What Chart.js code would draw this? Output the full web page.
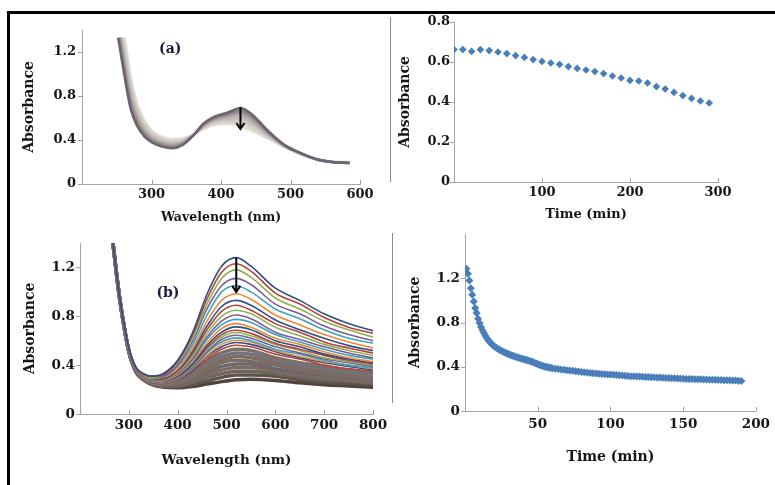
<!DOCTYPE html>
<html>
<head>
<meta charset="utf-8">
<script src="https://cdn.jsdelivr.net/npm/chart.js@4.4.1/dist/chart.umd.min.js"></script>
<style>
  html, body { margin: 0; padding: 0; background: #fff; }
  #page { position: relative; width: 775px; height: 485px; overflow: hidden; background: #fff; }
  #page canvas { position: absolute; left: 0; top: 0; }
  .frame { position: absolute; left: 7px; top: 11px; width: 800px; height: 500px;
           border-top: 3px solid #000; border-left: 3px solid #000; }
  .divider { position: absolute; width: 1px; background: #8c8c8c; }
</style>
</head>
<body>
<div id="page">
  <div class="frame"></div>
  <div class="divider" style="left:390px; top:17px; height:165px"></div>
  <div class="divider" style="left:392px; top:233px; height:170px"></div>
  <canvas id="specA" width="775" height="485"></canvas>
  <canvas id="kinA" width="775" height="485"></canvas>
  <canvas id="specB" width="775" height="485"></canvas>
  <canvas id="kinB" width="775" height="485"></canvas>
</div>
<script>
// ---------- data: panel (a) spectra ----------
// each curve starts at its own wavelength (startA) at 1.33, then follows wavelengthsA
const startA = [252, 253, 254, 255, 256, 257, 258, 259, 260, 262];
const wavelengthsA = [270, 280, 290, 300, 315, 330, 345, 360, 375, 390, 410, 428, 445, 465, 490, 515, 540, 560, 585];
const spectraA = [
  [0.685, 0.52, 0.43, 0.38, 0.34, 0.325, 0.355, 0.44, 0.55, 0.61, 0.65, 0.69, 0.63, 0.50, 0.36, 0.28, 0.22, 0.20, 0.19],
  [0.718, 0.542, 0.447, 0.392, 0.35, 0.334, 0.362, 0.441, 0.544, 0.602, 0.638, 0.671, 0.613, 0.491, 0.358, 0.279, 0.22, 0.20, 0.191],
  [0.75, 0.564, 0.463, 0.404, 0.36, 0.344, 0.368, 0.442, 0.539, 0.593, 0.627, 0.652, 0.597, 0.482, 0.356, 0.278, 0.22, 0.20, 0.192],
  [0.783, 0.587, 0.48, 0.417, 0.37, 0.353, 0.375, 0.443, 0.533, 0.585, 0.615, 0.633, 0.58, 0.473, 0.353, 0.277, 0.22, 0.20, 0.193],
  [0.816, 0.609, 0.497, 0.429, 0.38, 0.363, 0.382, 0.444, 0.528, 0.577, 0.603, 0.614, 0.563, 0.464, 0.351, 0.276, 0.22, 0.20, 0.194],
  [0.849, 0.631, 0.513, 0.441, 0.39, 0.372, 0.388, 0.446, 0.522, 0.568, 0.592, 0.595, 0.547, 0.456, 0.349, 0.274, 0.22, 0.20, 0.196],
  [0.882, 0.653, 0.53, 0.453, 0.40, 0.382, 0.395, 0.447, 0.517, 0.56, 0.58, 0.577, 0.53, 0.447, 0.347, 0.273, 0.22, 0.20, 0.197],
  [0.915, 0.676, 0.547, 0.466, 0.41, 0.391, 0.402, 0.448, 0.511, 0.552, 0.568, 0.558, 0.513, 0.438, 0.344, 0.272, 0.22, 0.20, 0.198],
  [0.947, 0.698, 0.563, 0.478, 0.42, 0.401, 0.408, 0.449, 0.506, 0.543, 0.557, 0.539, 0.497, 0.429, 0.342, 0.271, 0.22, 0.20, 0.199],
  [0.98, 0.72, 0.58, 0.49, 0.43, 0.41, 0.415, 0.45, 0.50, 0.535, 0.545, 0.52, 0.48, 0.42, 0.34, 0.27, 0.22, 0.20, 0.20]
];
const coloursA = ['#6a6476', '#8a8660', '#a0909c', '#b0a5aa', '#bbb3b3', '#c5bfb9', '#cec9bf', '#d6d3c8', '#dddbd0', '#e4e2d7'];

// ---------- data: panel (a) kinetics ----------
const timesA = [0, 10, 20, 30, 40, 50, 60, 70, 80, 90, 100, 110, 120, 130, 140, 150, 160, 170, 180, 190,
  200, 210, 220, 230, 240, 250, 260, 270, 280, 290];
const absA = [0.662, 0.662, 0.653, 0.662, 0.657, 0.65, 0.642, 0.632, 0.623, 0.612, 0.603, 0.595, 0.588, 0.577,
  0.568, 0.56, 0.552, 0.542, 0.53, 0.52, 0.508, 0.505, 0.495, 0.477, 0.465, 0.448, 0.432, 0.418, 0.405, 0.395];

// ---------- data: panel (b) spectra ----------
const wavelengthsB = [266, 280, 290, 300, 315, 330, 345, 370, 400, 430, 460, 490, 520, 550, 600, 650, 700, 750, 800];
const spectraB = [
  [1.45, 0.99, 0.74, 0.54, 0.38, 0.33, 0.31, 0.33, 0.44, 0.66, 0.98, 1.21, 1.28, 1.21, 1.03, 0.93, 0.82, 0.74, 0.68],
  [1.45, 0.99, 0.74, 0.54, 0.38, 0.33, 0.31, 0.32, 0.43, 0.64, 0.94, 1.16, 1.23, 1.17, 0.99, 0.90, 0.79, 0.71, 0.66],
  [1.45, 0.99, 0.74, 0.54, 0.38, 0.325, 0.30, 0.32, 0.42, 0.61, 0.90, 1.11, 1.18, 1.12, 0.95, 0.86, 0.76, 0.69, 0.63],
  [1.45, 0.99, 0.74, 0.535, 0.37, 0.32, 0.30, 0.31, 0.40, 0.59, 0.86, 1.05, 1.11, 1.06, 0.90, 0.82, 0.72, 0.65, 0.60],
  [1.45, 0.99, 0.735, 0.53, 0.37, 0.32, 0.295, 0.305, 0.39, 0.56, 0.81, 1.00, 1.05, 1.00, 0.86, 0.78, 0.69, 0.62, 0.58],
  [1.45, 0.985, 0.735, 0.53, 0.37, 0.315, 0.29, 0.30, 0.37, 0.53, 0.76, 0.93, 0.985, 0.94, 0.81, 0.73, 0.65, 0.59, 0.54],
  [1.45, 0.985, 0.733, 0.53, 0.366, 0.313, 0.287, 0.292, 0.36, 0.51, 0.72, 0.88, 0.93, 0.89, 0.77, 0.69, 0.62, 0.56, 0.52],
  [1.45, 0.985, 0.732, 0.528, 0.364, 0.31, 0.285, 0.287, 0.35, 0.49, 0.69, 0.84, 0.89, 0.85, 0.74, 0.67, 0.59, 0.54, 0.50],
  [1.45, 0.985, 0.731, 0.527, 0.363, 0.309, 0.282, 0.283, 0.34, 0.47, 0.66, 0.80, 0.85, 0.82, 0.71, 0.64, 0.57, 0.52, 0.48],
  [1.45, 0.985, 0.73, 0.526, 0.361, 0.306, 0.279, 0.278, 0.33, 0.45, 0.63, 0.76, 0.81, 0.78, 0.67, 0.61, 0.55, 0.50, 0.46],
  [1.45, 0.985, 0.73, 0.525, 0.36, 0.305, 0.277, 0.274, 0.33, 0.44, 0.61, 0.73, 0.775, 0.75, 0.65, 0.59, 0.53, 0.48, 0.45],
  [1.45, 0.985, 0.729, 0.524, 0.358, 0.303, 0.275, 0.271, 0.32, 0.43, 0.58, 0.70, 0.74, 0.71, 0.62, 0.57, 0.51, 0.46, 0.43],
  [1.45, 0.984, 0.729, 0.523, 0.357, 0.302, 0.273, 0.268, 0.31, 0.41, 0.56, 0.67, 0.713, 0.69, 0.60, 0.55, 0.49, 0.45, 0.42],
  [1.45, 0.984, 0.728, 0.522, 0.356, 0.30, 0.271, 0.265, 0.306, 0.40, 0.54, 0.65, 0.686, 0.66, 0.58, 0.53, 0.48, 0.44, 0.41],
  [1.45, 0.984, 0.728, 0.522, 0.355, 0.299, 0.27, 0.263, 0.302, 0.39, 0.53, 0.63, 0.667, 0.64, 0.57, 0.52, 0.46, 0.43, 0.40],
  [1.45, 0.984, 0.727, 0.521, 0.355, 0.298, 0.269, 0.26, 0.297, 0.38, 0.51, 0.61, 0.645, 0.62, 0.55, 0.50, 0.45, 0.42, 0.39],
  [1.45, 0.983, 0.727, 0.52, 0.354, 0.297, 0.267, 0.258, 0.292, 0.37, 0.50, 0.59, 0.623, 0.60, 0.53, 0.49, 0.44, 0.40, 0.38],
  [1.45, 0.983, 0.726, 0.52, 0.353, 0.296, 0.266, 0.256, 0.288, 0.37, 0.48, 0.57, 0.604, 0.59, 0.52, 0.47, 0.43, 0.40, 0.37],
  [1.45, 0.983, 0.726, 0.519, 0.352, 0.295, 0.265, 0.254, 0.284, 0.36, 0.47, 0.55, 0.585, 0.57, 0.51, 0.46, 0.42, 0.39, 0.36],
  [1.45, 0.983, 0.726, 0.518, 0.351, 0.294, 0.263, 0.251, 0.279, 0.35, 0.45, 0.53, 0.563, 0.55, 0.49, 0.45, 0.40, 0.37, 0.35],
  [1.45, 0.983, 0.725, 0.518, 0.35, 0.293, 0.261, 0.248, 0.271, 0.33, 0.43, 0.50, 0.53, 0.52, 0.46, 0.42, 0.39, 0.36, 0.34],
  [1.45, 0.982, 0.724, 0.517, 0.349, 0.291, 0.259, 0.244, 0.265, 0.32, 0.41, 0.47, 0.50, 0.49, 0.44, 0.40, 0.37, 0.34, 0.32],
  [1.45, 0.982, 0.724, 0.516, 0.348, 0.29, 0.257, 0.241, 0.258, 0.31, 0.38, 0.44, 0.47, 0.46, 0.42, 0.38, 0.35, 0.33, 0.31],
  [1.45, 0.982, 0.723, 0.515, 0.346, 0.288, 0.255, 0.238, 0.251, 0.29, 0.36, 0.42, 0.44, 0.43, 0.40, 0.36, 0.33, 0.31, 0.29],
  [1.45, 0.981, 0.723, 0.514, 0.345, 0.287, 0.253, 0.234, 0.244, 0.28, 0.34, 0.39, 0.41, 0.41, 0.37, 0.34, 0.32, 0.30, 0.28],
  [1.45, 0.981, 0.722, 0.513, 0.344, 0.285, 0.252, 0.231, 0.237, 0.27, 0.32, 0.36, 0.38, 0.38, 0.35, 0.32, 0.30, 0.28, 0.27],
  [1.45, 0.981, 0.721, 0.512, 0.343, 0.284, 0.25, 0.228, 0.231, 0.26, 0.30, 0.33, 0.35, 0.35, 0.33, 0.30, 0.28, 0.27, 0.25],
  [1.45, 0.98, 0.721, 0.511, 0.342, 0.282, 0.248, 0.224, 0.224, 0.24, 0.27, 0.30, 0.32, 0.32, 0.31, 0.28, 0.26, 0.25, 0.24],
  [1.45, 0.98, 0.72, 0.51, 0.34, 0.28, 0.245, 0.22, 0.215, 0.225, 0.245, 0.265, 0.28, 0.285, 0.275, 0.255, 0.24, 0.23, 0.22]
];
const paletteB = ['#2f4f80', '#b0443f', '#8fb050', '#7a5c9c', '#3fa2bd', '#ee8a3c'];
const mutedB = ['#7d6f66', '#6f7480', '#84695a', '#746f64', '#6e6370', '#7f6b5a', '#6c6560', '#5f534b', '#4f433c'];

// ---------- data: panel (b) kinetics ----------
const timesB = [1, 2, 3, 4, 5, 6, 7, 8, 9, 10, 11, 12, 13, 14, 15, 16, 17, 18, 19, 20,
  21, 22, 23, 24, 25, 26, 27, 28, 29, 30, 31, 32, 33, 34, 35, 36, 37, 38, 39, 40,
  41, 42, 43, 44, 45, 46, 47, 48, 49, 50, 51, 52, 53, 54, 55, 56, 57, 58, 59, 60,
  62, 64, 66, 68, 70, 72, 74, 76, 78, 80, 82, 84, 86, 88, 90, 92, 94, 96, 98, 100,
  102, 104, 106, 108, 110, 112, 114, 116, 118, 120, 122, 124, 126, 128, 130, 132, 134, 136, 138, 140,
  142, 144, 146, 148, 150, 152, 154, 156, 158, 160, 162, 164, 166, 168, 170, 172, 174, 176, 178, 180,
  182, 184, 186, 188, 190];
const absB = [1.285, 1.24, 1.18, 1.11, 1.05, 0.99, 0.93, 0.885, 0.835, 0.795, 0.76, 0.73, 0.705, 0.68, 0.66, 0.64, 0.625, 0.61, 0.597, 0.585,
  0.576, 0.567, 0.559, 0.552, 0.545, 0.538, 0.531, 0.525, 0.519, 0.513, 0.508, 0.503, 0.498, 0.494, 0.489, 0.485, 0.481, 0.477, 0.473, 0.47,
  0.466, 0.462, 0.458, 0.454, 0.45, 0.445, 0.44, 0.435, 0.43, 0.424, 0.418, 0.413, 0.408, 0.404, 0.401, 0.398, 0.395, 0.392, 0.39, 0.387,
  0.383, 0.38, 0.376, 0.373, 0.369, 0.366, 0.363, 0.359, 0.356, 0.353, 0.35, 0.347, 0.344, 0.341, 0.339, 0.337, 0.335, 0.333, 0.331, 0.329,
  0.327, 0.325, 0.323, 0.321, 0.319, 0.317, 0.315, 0.314, 0.312, 0.311, 0.31, 0.308, 0.307, 0.306, 0.304, 0.303, 0.302, 0.30, 0.299, 0.298,
  0.297, 0.295, 0.294, 0.293, 0.291, 0.29, 0.29, 0.289, 0.288, 0.287, 0.286, 0.285, 0.284, 0.283, 0.282, 0.282, 0.281, 0.28, 0.279, 0.278,
  0.277, 0.276, 0.275, 0.274, 0.272];

// ---------- styling ----------
const FONT = "'DejaVu Serif', serif";
const INK = '#161616';
const AXIS = '#a3a3a3';
const MARKER = '#4a7ebb';

// small tick marks, arrow and panel letter, all placed through the chart scales
const marks = {
  id: 'marks',
  afterDraw(chart, args, o) {
    const {ctx, chartArea: a, scales: {x, y}} = chart;
    ctx.save();
    ctx.strokeStyle = AXIS;
    ctx.lineWidth = 1;
    x.ticks.forEach((t, i) => {
      if (i === 0) return;
      const px = Math.round(x.getPixelForValue(t.value)) + 0.5;
      ctx.beginPath(); ctx.moveTo(px, a.bottom); ctx.lineTo(px, a.bottom - 4); ctx.stroke();
    });
    y.ticks.forEach(t => {
      if (o.hideY && o.hideY.includes(+t.value.toFixed(2))) return;
      const py = Math.round(y.getPixelForValue(t.value)) + 0.5;
      ctx.beginPath(); ctx.moveTo(a.left, py); ctx.lineTo(a.left - 4, py); ctx.stroke();
    });
    if (o.arrow) {
      const ax = x.getPixelForValue(o.arrow.x);
      const y0 = y.getPixelForValue(o.arrow.from), y1 = y.getPixelForValue(o.arrow.to);
      ctx.strokeStyle = '#000';
      ctx.lineWidth = 2;
      ctx.beginPath(); ctx.moveTo(ax, y0); ctx.lineTo(ax, y1); ctx.stroke();
      ctx.beginPath(); ctx.moveTo(ax - 4, y1 - 6); ctx.lineTo(ax, y1); ctx.lineTo(ax + 4, y1 - 6); ctx.stroke();
    }
    if (o.label) {
      ctx.fillStyle = '#1c1c38';
      ctx.font = 'bold 14px ' + FONT;
      ctx.textAlign = 'center';
      ctx.textBaseline = 'middle';
      ctx.fillText(o.label.text, x.getPixelForValue(o.label.x), y.getPixelForValue(o.label.y));
    }
    ctx.restore();
  }
};

function panel(p) {
  const lhY = p.yTitleSize * 1.2, lhX = p.xTitleSize * 1.2;
  const padLeft = p.yTitleX - lhY / 2;
  const boxBottom = p.xTitleY + lhX / 2;
  const tickFont = {family: FONT, size: p.tickSize, weight: 'bold'};
  const hideY = p.hideY || [];
  return {
    type: 'line',
    data: {datasets: p.datasets},
    options: {
      responsive: false,
      animation: false,
      events: [],
      layout: {padding: {left: padLeft, top: p.area.top, right: 775 - p.area.right, bottom: 485 - boxBottom}},
      plugins: {legend: {display: false}, tooltip: {enabled: false}, marks: Object.assign({hideY}, p.marks)},
      scales: {
        x: {
          type: 'linear', min: p.xMin, max: p.xMax,
          grid: {display: false, drawTicks: false},
          border: {display: true, color: AXIS, width: 1},
          ticks: {stepSize: p.xStep, color: INK, font: tickFont, padding: p.xPad, maxRotation: 0, autoSkip: false,
            callback: v => (v === p.xMin ? '' : String(v))},
          title: {display: true, text: p.xTitle, color: INK, padding: 0,
            font: {family: FONT, size: p.xTitleSize, weight: 'bold'}},
          afterFit: s => { s.height = boxBottom - p.area.bottom; }
        },
        y: {
          type: 'linear', min: 0, max: p.yMax,
          grid: {display: false, drawTicks: false},
          border: {display: true, color: AXIS, width: 1},
          ticks: {stepSize: p.yStep, color: INK, font: tickFont, padding: p.yPad, autoSkip: false,
            callback: v => {
              const r = +v.toFixed(2);
              if (hideY.includes(r)) return '';
              return r === 0 ? '0' : r.toFixed(1);
            }},
          title: {display: true, text: 'Absorbance', color: INK, padding: 0,
            font: {family: FONT, size: p.yTitleSize, weight: 'bold'}},
          afterFit: s => { s.width = p.area.left - padLeft; }
        }
      }
    },
    plugins: [marks]
  };
}

function lineSet(xs, ys, colour, width, first) {
  const pts = xs.map((x, i) => ({x, y: ys[i]}));
  if (first) pts.unshift(first);
  return {data: pts, borderColor: colour, borderWidth: width, pointRadius: 0,
    cubicInterpolationMode: 'monotone', fill: false};
}

function dotSet(xs, ys, r) {
  return {data: xs.map((x, i) => ({x, y: ys[i]})), showLine: false, pointStyle: 'rectRot',
    pointRadius: r, pointBackgroundColor: MARKER, pointBorderColor: MARKER, pointBorderWidth: 0};
}

// panel (a) spectra
new Chart(document.getElementById('specA'), panel({
  area: {left: 82, top: 30, right: 360, bottom: 184},
  xMin: 200, xMax: 600, xStep: 100, yMax: 1.4, yStep: 0.4, hideY: [1.4],
  xTitle: 'Wavelength (nm)', tickSize: 13, xTitleSize: 12.5, yTitleSize: 14,
  yTitleX: 29, xTitleY: 218, xPad: 3, yPad: 6,
  datasets: spectraA.map((ys, k) => lineSet(wavelengthsA, ys, coloursA[k], 2.5, {x: startA[k], y: 1.33})),
  marks: {arrow: {x: 428, from: 0.70, to: 0.50}, label: {text: '(a)', x: 327, y: 1.22}}
}));

// panel (a) kinetics
new Chart(document.getElementById('kinA'), panel({
  area: {left: 454, top: 22, right: 718, bottom: 182},
  xMin: 0, xMax: 300, xStep: 100, yMax: 0.8, yStep: 0.2,
  xTitle: 'Time (min)', tickSize: 13, xTitleSize: 13, yTitleSize: 14,
  yTitleX: 405, xTitleY: 215, xPad: 3, yPad: 4,
  datasets: [dotSet(timesA, absA, 3.8)]
}));

// panel (b) spectra
new Chart(document.getElementById('specB'), panel({
  area: {left: 80, top: 243, right: 373, bottom: 414},
  xMin: 200, xMax: 800, xStep: 100, yMax: 1.4, yStep: 0.4, hideY: [1.4],
  xTitle: 'Wavelength (nm)', tickSize: 13.5, xTitleSize: 13.5, yTitleSize: 14,
  yTitleX: 30, xTitleY: 460, xPad: 3, yPad: 5,
  datasets: spectraB.map((ys, k) => lineSet(wavelengthsB, ys,
    k < 20 ? paletteB[k % 6] : mutedB[k - 20], k < 20 ? 1.6 : 3.5)),
  marks: {arrow: {x: 520, from: 1.28, to: 1.0}, label: {text: '(b)', x: 380, y: 0.99}}
}));

// panel (b) kinetics
new Chart(document.getElementById('kinB'), panel({
  area: {left: 465, top: 234, right: 756, bottom: 411},
  xMin: 0, xMax: 200, xStep: 50, yMax: 1.6, yStep: 0.4, hideY: [1.6],
  xTitle: 'Time (min)', tickSize: 13.5, xTitleSize: 14, yTitleSize: 14,
  yTitleX: 415, xTitleY: 457, xPad: 5, yPad: 5,
  datasets: [dotSet(timesB, absB, 4)]
}));
</script>
</body>
</html>
